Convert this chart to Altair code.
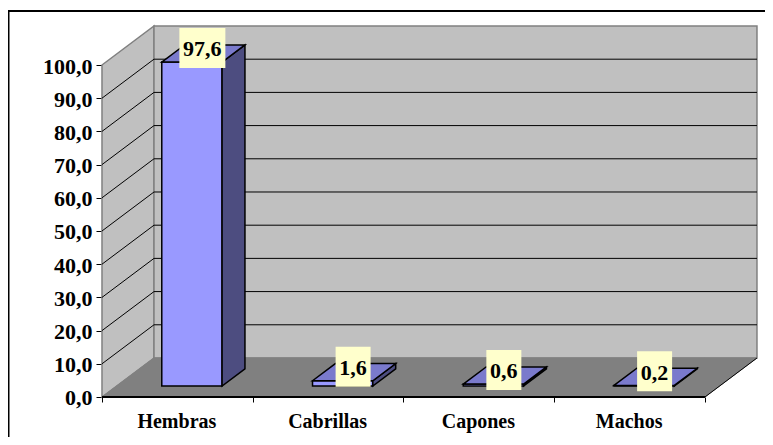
import altair as alt
import pandas as pd

categories = ["Hembras", "Cabrillas", "Capones", "Machos"]
values = [97.6, 1.6, 0.6, 0.2]
labels = ["97,6", "1,6", "0,6", "0,2"]
y_ticks = [0, 10, 20, 30, 40, 50, 60, 70, 80, 90, 100]

# oblique projection of the 3-D chart: depth 0..1 shifts x (in categories) and y (in value units)
DX, DY = 0.345, 11.75
D1, D2 = 0.28, 0.72
NCAT = len(categories)
BAR_L, BAR_R = 0.3, 0.7
W, H = 757, 429
X_DOM = [-0.6235, 4.3982]
Y_DOM = [-12.05, 117.17]
FONT = "Liberation Serif"
X_OFF, Y_OFF = -94, -(437 - 397)


def pgram(face, x0, x1, v, d1, d2):
    """horizontal parallelogram with front edge at depth d1, back edge at depth d2"""
    lo, hi = v + d1 * DY, v + d2 * DY
    return [
        dict(face=face, x=x0 + d1 * DX, y=lo, y2=lo),
        dict(face=face, x=x0 + d2 * DX, y=hi, y2=lo),
        dict(face=face, x=x1 + d1 * DX, y=hi, y2=lo),
        dict(face=face, x=x1 + d2 * DX, y=hi, y2=hi),
    ]


def quad(face, xa, xb, ya, ya2, yb, yb2):
    return [dict(face=face, x=xa, y=ya, y2=ya2), dict(face=face, x=xb, y=yb, y2=yb2)]


side_wall = quad("side", 0, DX, 100, 0, 100 + DY, DY)
back_wall = quad("back", DX, NCAT + DX, 100 + DY, DY, 100 + DY, DY)
floor = pgram("floor", 0, NCAT, 0, 0, 1)

front, top, side = [], [], []
for i, v in enumerate(values):
    x0, x1 = i + BAR_L, i + BAR_R
    front += quad(f"f{i}", x0 + D1 * DX, x1 + D1 * DX, v + D1 * DY, D1 * DY, v + D1 * DY, D1 * DY)
    top += pgram(f"t{i}", x0, x1, v, D1, D2)
    side += quad(f"s{i}", x1 + D1 * DX, x1 + D2 * DX, v + D1 * DY, D1 * DY, v + D2 * DY, D2 * DY)

x_scale = alt.Scale(domain=X_DOM, nice=False, zero=False)
y_scale = alt.Scale(domain=Y_DOM, nice=False, zero=False)

names_js = "[" + ",".join(f"'{c}'" for c in categories) + "]"
x_axis = alt.Axis(
    values=[k / 2 for k in range(2 * NCAT + 1)],
    title=None, grid=False, domain=False,
    offset=Y_OFF, tickSize=5, tickColor="black", tickWidth=1,
    tickOpacity={"condition": {"test": "datum.value % 1 != 0", "value": 0}, "value": 1},
    labelExpr=f"datum.value % 1 != 0 ? {names_js}[floor(datum.value)] : ''",
    labelFont=FONT, labelFontWeight="bold", labelFontSize=20, labelColor="black",
    labelPadding=9, labelOverlap=False, labelFlush=False, labelOffset=-1,
)
y_axis = alt.Axis(
    values=y_ticks, title=None, grid=False, domain=False,
    offset=X_OFF, tickSize=6, tickColor="black", tickWidth=1,
    labelExpr="replace(format(datum.value, '.1f'), '.', ',')",
    labelFont=FONT, labelFontWeight="bold", labelFontSize=22, labelColor="black",
    labelPadding=4, labelOverlap=False, labelFlush=False, labelOffset=1,
)


def X(field="x:Q"):
    return alt.X(field, scale=x_scale, axis=x_axis)


def Y(field="y:Q"):
    return alt.Y(field, scale=y_scale, axis=y_axis)


def area(rows, fill, stroke, sw):
    return alt.Chart(pd.DataFrame(rows)).mark_area(
        fill=fill, stroke=stroke, strokeWidth=sw, opacity=1, strokeJoin="miter"
    ).encode(x=X(), y=Y(), y2="y2:Q", detail="face:N")


grid_df = pd.DataFrame({"v": [t for t in y_ticks if 0 < t < 100]})
back_grid = alt.Chart(grid_df).transform_calculate(
    gy=f"datum.v + {DY}", xa=f"{DX}", xb=f"{NCAT + DX}"
).mark_rule(color="black", strokeWidth=1).encode(x=X("xa:Q"), x2="xb:Q", y=Y("gy:Q"))

diag_rows = []
for t in y_ticks[1:-1]:
    diag_rows += [dict(t=t, x=0.0, y=float(t)), dict(t=t, x=DX, y=t + DY)]
side_grid = alt.Chart(pd.DataFrame(diag_rows)).mark_line(color="black", strokeWidth=1).encode(
    x=X(), y=Y(), detail="t:N"
)

right_edge = alt.Chart(pd.DataFrame([dict(x=float(NCAT), y=0.0), dict(x=NCAT + DX, y=DY)])).mark_line(
    color="black", strokeWidth=1
).encode(x=X(), y=Y())

base_line = alt.Chart(pd.DataFrame({"x": [0.0], "x2": [float(NCAT)], "y": [0.0]})).mark_rule(
    color="black", strokeWidth=2
).encode(x=X(), x2="x2:Q", y=Y())

lab_df = pd.DataFrame({"cat": categories, "value": values, "label": labels})
lab_df["lx"] = [i + 0.5 + 0.5 * DX for i in range(NCAT)]
lab_df["ly"] = lab_df["value"] + 0.5 * DY


def boxes(test, w):
    return alt.Chart(lab_df).transform_filter(test).mark_rect(
        fill="#FFFFCC", width=w, height=40, yOffset=-5.5, xOffset=-1
    ).encode(x=X("lx:Q"), y=Y("ly:Q"))


texts = alt.Chart(lab_df).mark_text(
    font=FONT, fontWeight="bold", fontSize=22, color="black", baseline="middle", yOffset=-4, xOffset=-1
).encode(x=X("lx:Q"), y=Y("ly:Q"), text="label:N")

frame_top = alt.Chart(pd.DataFrame({"a": [0]})).mark_rule(color="black", strokeWidth=2).encode(
    x=alt.value(0), x2=alt.value(W), y=alt.value(3)
)
frame_left = alt.Chart(pd.DataFrame({"a": [0]})).mark_rule(color="black", strokeWidth=2).encode(
    x=alt.value(0.5), y=alt.value(2), y2=alt.value(H)
)

chart = alt.layer(
    area(side_wall, "#C0C0C0", "#808080", 1.5),
    area(back_wall, "#C0C0C0", "#808080", 1.5),
    side_grid,
    back_grid,
    area(floor, "#808080", "#808080", 1),
    right_edge,
    base_line,
    area(front, "#9999FF", "black", 1.5),
    area(side, "#4D4D80", "black", 1.5),
    area(top, "#7A7ACC", "black", 1.5),
    boxes("length(datum.label) == 4", 46),
    boxes("length(datum.label) == 3", 35),
    texts,
    frame_top,
    frame_left,
).properties(
    width=W, height=H, padding=0, autosize=alt.AutoSizeParams(type="none"), background="white"
).configure_view(stroke=None)

chart.save("out.html", embed_options={"renderer": "svg", "actions": False})
